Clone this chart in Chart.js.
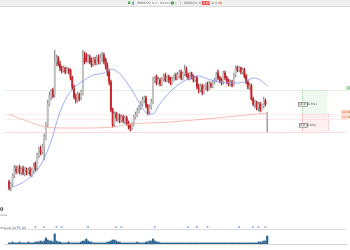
<!DOCTYPE html>
<html>
<head>
<meta charset="utf-8">
<script src="https://cdn.jsdelivr.net/npm/chart.js@4"></script>
<style>
  html, body { margin: 0; padding: 0; background: #fff; }
  #wrap { width: 350px; height: 250px; position: relative; }
</style>
</head>
<body>
<div id="wrap"><canvas id="chart"></canvas></div>
<script>
// daily candles, price (arbitrary units)
const opens = [62,57,60,69,75,73,76,72,75,71, 74,72,74,70,73,80,76,89,94,92,
  98,106,119,140,148,154,149,182,186,180, 176,174,176,172,174,174,166,157,147,144,
  149,145,151,186,189,184,187,183,180,184, 181,186,182,186,189,184,178,172,162,134,
  120,130,126,128,124,127,123,126,121,118, 116,120,127,129,133,136,140,144,146,138,
  132,137,142,164,167,161,164,160,165,168, 164,167,165,161,165,168,165,169,172,166,
  170,174,169,167,170,167,164,166,157,154, 158,152,156,159,155,160,158,162,164,171,
  166,164,162,171,166,163,160,162,159,169, 176,174,176,172,174,168,162,157,158,145,
  140,141,137,140,135,138,143,126];
const closes = [56,60,68,76,73,76,72,75,71,74, 72,74,70,73,78,75,89,94,92,98,
  107,119,140,148,152,148,182,186,180,176, 174,176,172,175,173,166,157,147,144,149,
  145,152,186,182,184,187,182,179,184,181, 186,182,186,188,183,178,172,162,134,119,
  130,126,128,124,127,123,126,121,118,116, 120,127,129,133,136,140,144,146,138,131,
  137,142,164,166,161,164,160,165,168,164, 167,164,161,165,168,165,169,172,166,170,
  174,169,166,170,167,164,166,157,154,158, 152,156,159,155,160,158,162,164,170,166,
  164,162,171,166,163,160,162,159,169,176, 174,176,172,174,168,162,157,158,145,140,
  141,137,140,135,138,144,140,131];
const highs = [64,62,70,79,78,78,79,77,78,77, 76,76,77,76,81,82,91,97,98,100,
  110,122,144,152,155,156,194,189,188,183, 178,178,177,177,176,175,168,159,150,152,
  151,154,194,192,191,190,189,186,187,187, 189,189,190,192,191,186,181,174,164,136,
  132,132,131,130,129,129,128,128,123,120, 122,129,132,136,139,143,147,148,148,140,
  139,145,167,168,169,167,166,167,170,171, 169,169,167,167,170,171,172,174,174,172,
  179,177,171,172,172,169,168,168,160,160, 160,159,161,162,163,162,164,166,172,174,
  168,166,173,173,168,165,164,164,171,178, 178,178,177,176,176,170,164,161,160,147,
  144,143,142,142,140,147,145,132];
const lows = [54,53,58,66,70,71,70,69,69,68, 69,70,68,67,71,73,74,86,89,90,
  84,104,117,138,144,146,147,178,178,173, 171,172,170,171,170,164,154,145,141,142,
  143,144,149,180,182,181,180,177,178,179, 179,180,180,182,180,175,168,159,132,117,
  117,123,122,121,122,121,120,119,115,113, 114,118,125,127,131,134,138,141,136,129,
  130,135,140,161,159,160,158,158,163,162, 162,161,159,160,163,164,164,166,164,164,
  168,167,164,164,165,162,162,155,151,152, 149,150,154,153,154,156,156,160,162,164,
  161,159,160,164,160,158,158,157,158,167, 172,172,170,170,166,160,155,154,144,138,
  136,134,133,132,133,136,138,112];
const volumes = [1,1,2,1,1,1,2,1,1,1,1,2,1,1,1,2,
  2,2,3,2,3,6,4,3,3,2, 10,3,2,2,1,1,1,1,2,1, 1,1,1,1,1,2,3,3,5,3,
  2,2,1,1,1,1,1,1,1,1, 2,2,3,4,4,3,2,2,1,1, 1,1,1,1,1,1,1,2,1,1,
  1,1,2,2,3,3,5,3,2,2, 1,1,1,1,1,1,1,1,1,1, 1,1,1,1,1,1,1,1,1,1,
  1,1,1,1,1,1,1,1,1,1, 1,1,1,1,1,1,1,1,1,1, 1,1,1,1,1,1,1,1,1,1,
  1,1,1,1,1,1,2,2,2,3, 3,8];

// moving averages (sampled where the curve could be read)
const fastMaX = [1,10,18,24,28,32,37,43,48,54,58,62,66,70,75,79,82,85,89,94,103,108,113,120,127,134,139,143,147];
const fastMaY = [56,64,79,103,127,144,156,164,169,171,175,172,164,154,139,130,130,138,147,156,166,168,165,162,161,162,166,164,158];
const slowMaX = [0,10,21,32,43,59,70,92,124,147];
const slowMaY = [130,123,117,116,116,117,120,122,127,131];
const volMaX = [0,30,55,80,110,147];
const volMaY = [1.5,2,2,2,1.5,1.5];

// event markers above the volume pane
const eventX = [5,15,20,27,30,45,61,64,83,102,107,113,131,139,142,146];

// axis labels
const tickPos = [1,6,10,16,22,26,30,36,41,46,50,54,58,63,67,72,77,83,86,91,
  97,103,107,112,116,121,126,131,135,139,143,148,152,156,162,167,172,176,180,184,188];
const tickText = ['13','20','27','Dec','11','18','26','2024','8','16','22','29','Feb','12','20','26','Mar','11','18','25',
  'Apr','8','15','22','29','May','6','13','20','28','Jun','10','17','24','Jul','8','15','22','29','Aug','12'];
const boldTicks = ['Dec','2024','Feb','Mar','Apr','May','Jun','Jul','Aug'];

// long position tool
const takeProfit = 154;
const entryPrice = 130;
const midLevel = 125;
const stopLoss = 112;
const posStart = 166.7;
const posEnd = 181.4;

const idx = closes.map((c, i) => i);
const isUp = idx.map(i => closes[i] >= opens[i]);

const chrome = {
  id: 'chrome',
  beforeDatasetsDraw(chart) {
    const {ctx, chartArea: a, scales: {x, y, yv}} = chart;
    ctx.save();
    const x0 = x.getPixelForValue(posStart), x1 = x.getPixelForValue(posEnd);
    const yT = y.getPixelForValue(takeProfit), yE = y.getPixelForValue(entryPrice), yS = y.getPixelForValue(stopLoss);
    ctx.fillStyle = 'rgba(76,175,80,0.09)';
    ctx.fillRect(x0, yT, x1 - x0, yE - yT);
    ctx.fillStyle = 'rgba(242,54,69,0.08)';
    ctx.fillRect(x0, yE, x1 - x0, yS - yE);
    const hline = (p, col) => {
      const py = Math.round(y.getPixelForValue(p)) + 0.5;
      ctx.strokeStyle = col; ctx.lineWidth = 1;
      ctx.beginPath(); ctx.moveTo(a.left, py); ctx.lineTo(a.right, py); ctx.stroke();
    };
    hline(takeProfit, 'rgba(76,175,80,0.16)');
    hline(entryPrice, 'rgba(242,54,69,0.10)');
    hline(midLevel, 'rgba(242,54,69,0.10)');
    hline(stopLoss, 'rgba(242,54,69,0.18)');
    ctx.setLineDash([1, 1]);
    ctx.strokeStyle = 'rgba(76,175,80,0.5)';
    ctx.beginPath(); ctx.moveTo(Math.round(x0) + 0.5, yT); ctx.lineTo(Math.round(x0) + 0.5, yE); ctx.stroke();
    ctx.strokeStyle = 'rgba(242,54,69,0.4)';
    ctx.beginPath(); ctx.moveTo(Math.round(x0) + 0.5, yE); ctx.lineTo(Math.round(x0) + 0.5, yS); ctx.stroke();
    ctx.beginPath(); ctx.moveTo(Math.round(x1) + 0.5, yE); ctx.lineTo(Math.round(x1) + 0.5, yS); ctx.stroke();
    ctx.setLineDash([]);
    // pane separator
    const sy = Math.round(yv.getPixelForValue(15)) + 0.5;
    ctx.strokeStyle = '#dcdcdc';
    ctx.beginPath(); ctx.moveTo(a.left, sy); ctx.lineTo(a.right, sy); ctx.stroke();
    ctx.restore();
  },
  afterDraw(chart) {
    const {ctx, scales: {y}} = chart;
    ctx.save();
    ctx.textBaseline = 'middle';
    const box = (x, p, w, fill, stroke, txt, tcol) => {
      const py = Math.round(y.getPixelForValue(p));
      ctx.fillStyle = fill; ctx.fillRect(x, py - 2, w, 4.5);
      if (stroke) { ctx.strokeStyle = stroke; ctx.lineWidth = 0.6; ctx.strokeRect(x + 0.3, py - 1.7, w - 0.6, 3.9); }
      ctx.fillStyle = tcol; ctx.font = '3px "DejaVu Sans"';
      ctx.fillText(txt, x + 1, py + 0.3);
    };
    box(298, 140, 10, '#f4f4f4', '#6b6b6b', '10.9 (8.5%)', '#444');
    box(299, 119, 9, '#f4f4f4', '#6b6b6b', '4.9 (3.8%)', '#444');
    box(346, 156, 4, '#c8e6c9', null, '13', '#2e7d32');
    box(341, 132, 9, '#ffd9c9', null, '11.48', '#c0592a');
    box(341, 127, 9, '#ffe3d6', null, '11.30', '#c0592a');

    // toolbar
    ctx.fillStyle = '#efefef'; ctx.fillRect(0, 0, 350, 6);
    ctx.fillStyle = '#d2d2d2'; ctx.fillRect(0, 6, 350, 0.8);
    ctx.font = '3px "DejaVu Sans"';
    ctx.fillStyle = '#4caf50'; ctx.fillRect(128, 1.5, 2.5, 2.5);
    ctx.fillStyle = '#6a8fd8'; ctx.fillRect(132.5, 1.5, 1.5, 3.5);
    ctx.fillStyle = '#ffffff'; ctx.fillRect(136, 1, 13, 4);
    ctx.fillStyle = '#555'; ctx.fillText('BBBB/DV ▾', 137, 3.2);
    ctx.fillStyle = '#ffffff'; ctx.fillRect(151, 1, 6, 4);
    ctx.fillStyle = '#555'; ctx.fillText('D ▾', 152, 3.2);
    ctx.fillStyle = '#ffffff'; ctx.fillRect(159, 1, 10, 4);
    ctx.fillStyle = '#555'; ctx.fillText('Heikin ▾', 160, 3.2);
    ctx.fillStyle = '#4caf50'; ctx.fillRect(171, 1.5, 3, 3);
    ctx.fillStyle = '#9e9e9e'; ctx.fillText('▾', 175, 3.2);
    ctx.fillStyle = '#bdbdbd'; ctx.fillRect(180, 1, 0.6, 4);
    ctx.fillStyle = '#777'; ctx.fillText('BBBB/DV 1D ASX', 184, 3.2);
    ctx.fillStyle = '#ef5350'; ctx.fillRect(202, 1, 8, 4);
    ctx.fillStyle = '#fff'; ctx.fillText('-2.67%', 202.5, 3.2);
    ctx.fillStyle = '#777'; ctx.fillText('at 0.89', 211.5, 3.2);
    ctx.fillStyle = '#ffa726'; ctx.fillRect(219.5, 1.8, 1.6, 1.6);

    // left overlay texts
    ctx.fillStyle = '#333'; ctx.font = 'bold 5px "DejaVu Sans"';
    ctx.fillText('0', 0, 210);
    ctx.fillStyle = '#999'; ctx.font = '3px "DejaVu Sans"';
    ctx.fillText('aaaa', 0, 215.5);
    ctx.fillStyle = '#666';
    ctx.fillText('Volume 20   1.2M', 0, 228);
    ctx.restore();
  }
};

new Chart(document.getElementById('chart'), {
  data: {
    datasets: [
      {
        type: 'line', label: 'MA fast', yAxisID: 'y', order: 0,
        data: fastMaX.map((v, k) => ({x: v, y: fastMaY[k]})),
        borderColor: '#8595f5', borderWidth: 0.8, pointRadius: 0, cubicInterpolationMode: 'monotone'
      },
      {
        type: 'line', label: 'MA slow', yAxisID: 'y', order: 0,
        data: slowMaX.map((v, k) => ({x: v, y: slowMaY[k]})),
        borderColor: '#f6aaa2', borderWidth: 0.8, pointRadius: 0, cubicInterpolationMode: 'monotone'
      },
      {
        type: 'bar', label: 'body', yAxisID: 'y', order: 1, grouped: false,
        data: idx.map(i => ({x: i, y: [opens[i], closes[i]]})),
        backgroundColor: idx.map(i => isUp[i] ? '#c2c2c2' : '#c4262b'),
        barThickness: 1.3, borderWidth: 0, minBarLength: 0.6
      },
      {
        type: 'bar', label: 'wick', yAxisID: 'y', order: 2, grouped: false,
        data: idx.map(i => ({x: i, y: [lows[i], highs[i]]})),
        backgroundColor: idx.map(i => isUp[i] ? '#8f8f8f' : '#a32024'),
        barThickness: 0.6, borderWidth: 0
      },
      {
        type: 'bar', label: 'volume', yAxisID: 'yv', order: 3, grouped: false,
        data: idx.map(i => ({x: i, y: volumes[i]})),
        backgroundColor: '#2b628f', barThickness: 1.5, borderWidth: 0
      },
      {
        type: 'line', label: 'vol MA', yAxisID: 'yv', order: 0,
        data: volMaX.map((v, k) => ({x: v, y: volMaY[k]})),
        borderColor: 'rgba(245,166,35,0.8)', borderWidth: 0.7, borderDash: [1, 1], pointRadius: 0
      },
      {
        type: 'scatter', label: 'events', yAxisID: 'yv', order: 0,
        data: eventX.map(v => ({x: v, y: 17})),
        pointStyle: 'rect', pointRadius: 1.3, backgroundColor: '#8fb3ef', borderWidth: 0
      }
    ]
  },
  options: {
    responsive: true,
    maintainAspectRatio: false,
    animation: false,
    layout: {padding: {top: 6, left: 0, right: 0, bottom: 0}},
    plugins: {legend: {display: false}, tooltip: {enabled: false}},
    scales: {
      x: {
        type: 'linear', min: -0.5, max: 189.5,
        grid: {display: false},
        border: {display: true, color: '#d5d5d5'},
        afterBuildTicks: s => { s.ticks = tickPos.map(v => ({value: v})); },
        afterFit: s => { s.height = 6; },
        ticks: {
          autoSkip: false, maxRotation: 0, padding: 0, color: '#777',
          font: c => ({family: 'DejaVu Sans', size: 3.6,
            weight: (c.tick && boldTicks.includes(c.tick.label)) ? 'bold' : 'normal'}),
          callback: v => {
            const k = tickPos.indexOf(v);
            return k >= 0 ? tickText[k] : '';
          }
        }
      },
      y: {min: 0, max: 238, display: false},
      yv: {min: 0, max: 238, display: false}
    }
  },
  plugins: [chrome]
});
</script>
</body>
</html>
